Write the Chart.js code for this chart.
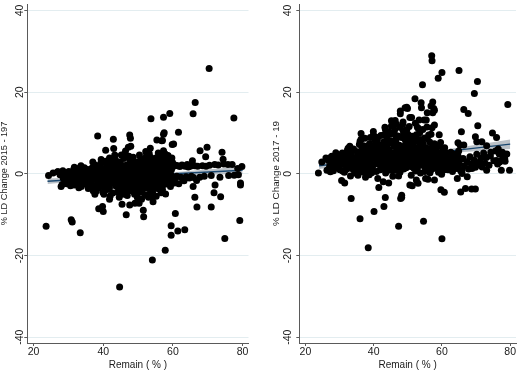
<!DOCTYPE html>
<html>
<head>
<meta charset="utf-8">
<script src="https://cdn.jsdelivr.net/npm/chart.js@4.4.1/dist/chart.umd.min.js"></script>
<style>
  body { margin: 0; background: #fff; }
  #wrap { position: relative; width: 520px; height: 372px; }
  canvas { position: absolute; top: 0; }
  #left { left: 0; }
  #right { left: 260px; }
</style>
</head>
<body>
<div id="wrap">
  <canvas id="left" width="260" height="372"></canvas>
  <canvas id="right" width="260" height="372"></canvas>
</div>
<script>
// tick labels
const xTicks = [20, 40, 60, 80];
const yTicks = [-40, -20, 0, 20, 40];

// panel 1: Remain (%) vs % LD change 2015-19
const points15 = [
  // outliers
  [23.6,-12.8],[31.1,-11.8],[33.4,-14.4],[44.7,-27.7],[54.1,-21.1],[57.8,-18.7],[53.7,13.5],[57.3,13.9],[59.1,14.8],
  [70.4,25.8],[66.4,17.5],[65.8,14.7],[77.5,13.7],[38.4,9.3],[42.9,8.5],[47.6,9.5],[47.8,8.7],[61.6,10.2],[57.5,10.1],
  [57.0,8.2],[55.4,8.3],[59.8,7.2],[69.8,6.5],[67.8,5.7],[74.1,5.3],[74.4,3.6],[69.4,4.2],[40.7,5.8],[43.0,6.2],
  [47.2,6.5],[53.5,6.3],[73.7,-5.6],[71.8,-4.6],[71.0,-8.1],[72.1,-2.7],[66.9,-8.1],[66.3,-5.7],[65.8,-3.1],[60.7,-9.7],
  [59.5,-12.7],[61.4,-14.0],[63.4,-13.7],[59.5,-15.0],[74.9,-15.8],[79.2,-11.4],[79.4,-2.2],[79.4,-2.7],[79.8,1.8],
  [78.6,1.3],[76.0,-0.4],[53.0,-5.7],[46.6,-10.0],[51.6,-10.5],[51.5,-8.9],[54.3,-6.8],[55.2,-5.5],
  [47.6,-7.6],[45.4,-7.4],[39.8,-8.0],[40.0,-9.2],[38.7,-8.5],[41.8,-6.2],[37.6,-5.0],[33.0,-3.4],[27.9,-3.1],
  [31.7,1.6],[27.0,0.5],[57.9,-4.9],[50.3,-7.2],[49.1,-7.2],[56.8,8.1],[57.3,9.7],[60.2,7.3],[57.3,5.7],[57.8,4.9],
  [59.7,3.9],[53.5,3.7],[54.9,2.9],[43.3,4.6],[46.1,4.9],[47.9,6.8],[30.8,-11.2],
  // dense core
  [24.3,-0.4],[25.6,0.2],[26.9,0.5],[27.6,-0.2],[27.9,0.1],[28.2,-2.6],[28.5,-1.0],[28.8,-0.5],[28.4,0.8],
  [29.0,-1.7],[29.3,0.2],[29.5,-2.4],[29.8,-0.8],[30.1,0.6],[30.3,-1.3],[30.6,-2.9],[30.8,0.1],[31.0,-0.6],
  [31.2,-1.9],[31.5,1.0],[31.7,-2.7],[31.9,-0.3],[32.1,0.7],[32.3,-1.5],
  [32.6,-0.9],[32.8,1.3],[33.0,-2.2],[33.3,0.3],[33.5,-1.2],[33.7,-3.1],[33.9,0.9],[34.2,-0.5],[34.4,-1.8],
  [34.6,1.5],[34.8,-2.5],[35.0,0.0],[35.3,-1.0],[35.5,1.1],[35.7,-3.6],[35.9,-0.4],
  [36.1,-1.6],[36.3,0.6],[36.5,-2.3],[36.7,1.4],[36.9,-0.7],[37.1,-4.1],[37.3,0.2],[37.5,-1.3],[37.7,2.2],
  [37.9,-2.8],[38.1,-0.2],[38.3,1.0],[38.5,-1.9],[38.7,-3.4],[38.9,0.5],[39.1,-0.9],[39.3,2.6],[39.5,-2.1],
  [39.7,1.2],[39.9,-4.5],
  [40.1,-0.4],[40.3,0.9],[40.5,-1.5],[40.7,3.1],[40.9,-2.6],[41.1,0.1],[41.3,-3.8],[41.5,1.7],[41.7,-1.1],
  [41.9,-0.3],[42.1,2.4],[42.3,-2.2],[42.5,0.6],[42.7,-4.7],[42.9,1.1],[43.1,-1.7],[43.3,-0.6],[43.5,3.4],
  [43.7,-3.0],[43.9,0.3],[40.4,-3.2],[41.0,2.0],[41.6,-2.9],[42.2,-0.8],[42.8,3.6],[43.4,-2.5],[44.0,1.9],
  [40.8,0.4],[41.4,-1.8],[42.6,-1.3],[43.8,2.7],
  [44.1,-1.2],[44.3,0.8],[44.5,-2.7],[44.7,2.9],[44.9,-0.5],[45.1,-4.2],[45.3,1.5],[45.5,-1.9],[45.7,0.0],
  [45.9,3.8],[46.1,-3.3],[46.3,0.6],[46.5,-1.4],[46.7,2.2],[46.9,-5.3],[47.1,-0.2],[47.3,1.1],[47.5,-2.4],
  [47.7,3.2],[47.9,-0.9],[44.4,-3.6],[45.0,2.4],[45.6,-3.0],[46.2,1.9],[46.8,-2.0],[47.4,4.3],[48.0,-4.1],
  [44.6,0.3],[45.8,-0.7],[47.0,0.9],[46.0,-5.0],[47.8,-3.2],[44.8,-1.7],[46.6,-4.0],
  [48.1,1.6],[48.3,-1.7],[48.5,0.4],[48.7,-3.5],[48.9,2.6],[49.1,-0.6],[49.3,-2.2],[49.5,1.3],[49.7,-4.4],
  [49.9,0.1],[50.1,3.0],[50.3,-1.3],[50.5,0.7],[50.7,-2.8],[50.9,1.9],[51.1,-0.4],[51.3,-3.9],[51.5,2.3],
  [51.7,-1.0],[51.9,0.5],[48.4,3.4],[49.0,-5.0],[49.6,2.1],[50.2,-3.1],[50.8,3.7],[51.4,-1.9],[52.0,-5.2],
  [48.8,-0.9],[50.0,-0.2],[51.2,1.1],[49.4,0.9],[50.6,-4.5],[48.2,-2.6],[51.8,3.1],
  [52.1,-2.0],[52.3,1.4],[52.5,-0.7],[52.7,3.3],[52.9,-3.6],[53.1,0.3],[53.3,-1.5],[53.5,2.0],[53.7,-4.0],
  [53.9,0.9],[54.1,-0.3],[54.3,2.8],[54.5,-2.3],[54.7,1.2],[54.9,-1.1],[55.1,3.9],[55.3,-3.0],[55.5,0.5],
  [55.7,-0.6],[55.9,1.8],[52.4,4.4],[53.0,-5.1],[53.6,4.1],[54.2,-4.7],[54.8,3.5],[55.4,-2.0],[56.0,-3.7],
  [52.8,0.0],[54.0,1.6],[55.2,0.2],[53.4,-2.8],[54.6,-0.8],
  [56.1,0.7],[56.3,-1.9],[56.5,2.5],[56.7,-0.4],[56.9,3.6],[57.1,-2.8],[57.3,1.0],[57.5,-1.2],[57.7,3.3],
  [57.9,0.2],[58.1,-2.5],[58.3,1.5],[58.5,-0.5],[58.7,2.6],[58.9,-1.6],[59.1,0.4],[59.3,-3.1],[59.5,1.9],
  [59.7,-0.7],[59.9,2.8],[56.4,4.5],[57.0,-3.9],[57.6,0.6],[58.2,3.4],[58.8,-2.2],[59.4,-0.2],[56.8,1.6],
  [58.0,-0.9],
  // right of 60: a thin row either side of the fit
  [60.2,1.9],[60.5,-1.3],[60.8,2.1],[61.1,-0.6],[61.4,2.0],[61.7,-2.4],[62.0,1.8],[62.3,-0.8],[62.6,2.2],
  [62.9,-1.2],[63.2,-1.7],[63.5,1.9],[63.8,-0.7],[64.1,2.3],[64.4,1.7],
  [64.7,-1.0],[65.0,1.9],[65.3,-0.6],[65.6,3.2],[65.9,-0.9],[66.2,2.0],[66.8,-1.6],[67.1,1.9],[67.7,-0.8],
  [68.5,2.0],[69.0,-0.6],[69.5,1.9],
  [70.5,2.1],[71.0,-0.4],[72.0,2.3],[73.0,2.2],[73.5,-0.8],[74.6,2.4],[75.8,2.3],[77.0,2.3],[77.6,-0.3],[78.8,-0.2],
  // more of the core
  [35.2,-2.0],[36.0,0.9],[36.8,-3.0],[37.6,0.4],[38.4,-1.1],[39.2,1.8],[39.8,-2.9],[40.6,-0.9],[41.2,1.2],
  [41.8,-3.4],[42.4,-0.1],[43.0,2.0],[43.6,-1.0],[44.2,-4.5],[44.8,1.6],[45.4,-0.3],[46.0,0.5],[46.4,-2.6],
  [47.2,-1.1],[47.6,2.0],[48.2,0.9],[48.6,-1.2],[49.2,1.9],[49.8,-3.0],[50.4,0.4],[51.0,-1.7],[51.6,1.5],
  [52.2,-3.3],[52.6,2.4],[53.2,-0.8],[53.8,1.5],[54.4,0.5],[55.0,-3.5],[55.6,2.6],[56.2,-1.0],[56.6,-2.6],
  [57.2,2.2],[57.8,-1.8],[58.4,0.8],[59.0,-0.6],[59.6,1.1],[60.4,-2.2],
  [32.4,-2.4],[33.6,2.0],[34.0,-1.4],[30.4,-2.0],[29.2,-0.4],[37.0,2.9],[38.0,-4.2],
  [39.4,3.5],[40.2,-5.0],[41.8,3.9],[42.0,-5.4],[43.2,4.0],[44.6,-5.7],[45.2,4.6],[48.6,4.1],[49.8,-5.8],
  [50.4,4.6],[53.2,5.0],[54.4,-5.4],[55.8,5.1],[56.6,-4.6],[58.6,4.5],[52.2,5.5],[46.4,5.6],[51.0,-6.2]
];
// fitted line and 95% band, panel 1
const fitX15 = [24, 35, 48, 62, 80];
const fitY15 = [-1.8, -1.2, -0.6, 0.1, 0.9];
const fitLo15 = [-2.5, -1.6, -0.9, -0.3, 0.0];
const fitHi15 = [-1.1, -0.8, -0.3, 0.5, 1.8];

// panel 2: Remain (%) vs % LD change 2017-19
const points17 = [
  // outliers
  [23.8,0.2],[24.8,2.9],[57.0,28.9],[57.1,27.7],[60.0,24.8],[58.9,23.4],[65.0,25.3],[70.4,22.6],[69.5,19.7],
  [54.3,21.8],[52.1,18.4],[53.9,17.4],[57.3,17.6],[57.6,16.0],[57.8,15.6],[55.7,15.0],[55.4,13.2],[49.7,16.3],
  [49.9,16.0],[47.8,14.7],[46.3,13.1],[66.4,15.8],[67.7,14.8],[79.3,17.0],[70.5,11.8],[65.7,10.3],[74.8,10.0],
  [76.0,8.9],[69.8,9.1],[79.8,0.9],[77.4,0.9],[73.1,0.9],[68.7,-3.7],[65.5,-4.4],[67.4,-0.7],[64.5,-1.1],
  [59.7,-3.9],[60.7,-4.5],[60.0,-15.9],[54.6,-11.6],[47.3,-12.8],[38.4,-18.1],[36.0,-11.0],[40.1,-9.2],
  [43.0,-8.0],[43.4,-5.8],[33.4,-6.0],[31.5,-2.2],[47.9,-6.0],[48.2,-5.8],[41.5,-3.3],[44.4,-2.2],[52.5,-1.5],
  [53.0,-2.3],[50.6,-2.7],[51.3,-2.9],[55.2,-1.1],[55.9,-1.3],[57.8,-1.5],[36.3,9.9],[36.3,8.5],[39.9,9.5],
  [40.9,8.1],[43.3,11.4],[45.2,13.0],[46.6,12.2],[48.6,12.7],[51.1,13.8],[53.3,13.2],[54.8,13.2],[57.8,12.0],
  [59.2,9.6],[59.2,6.9],[56.1,9.5],[52.8,11.4],[50.6,9.3],[32.5,6.3],[27.7,4.3],[31.2,4.9],[37.0,6.9],
  [47.8,15.4],[49.2,16.2],[50.6,13.8],[54.0,16.2],[56.8,16.6],[57.3,15.0],[64.7,7.6],[66.4,7.1],[70.2,7.9],
  [71.7,7.9],[73.1,6.9],[74.3,5.3],[76.5,6.1],[77.7,5.3],[77.9,4.5],[78.4,3.7],[76.0,3.3],[76.9,2.9],
  [68.8,1.3],[70.2,2.1],[71.2,2.5],[65.9,0.1],[66.9,-3.6],[69.8,-3.7],[48.2,-5.2],
  // dense core
  [26.3,0.9],[26.7,3.3],[27.1,1.9],[27.5,4.1],[27.9,2.7],[28.2,0.8],[28.6,3.6],[29.0,1.5],
  [29.4,4.6],[29.8,2.4],[26.0,3.9],[28.9,5.2],[27.3,0.5],
  [30.1,1.0],[30.4,3.7],[30.8,5.1],[31.1,2.3],[31.4,0.4],[31.7,4.2],[32.0,2.9],[32.3,5.8],[32.6,1.4],[32.9,3.4],
  [33.2,-0.5],[33.5,4.9],[33.8,2.1],[34.1,6.1],[30.6,-1.6],[31.9,1.1],[33.0,6.8],[34.4,0.2],
  [34.6,3.5],[34.9,1.6],[35.2,5.4],[35.5,2.7],[35.8,7.2],[36.1,0.6],[36.4,4.3],[36.7,2.0],[37.0,5.9],[37.3,3.1],
  [37.6,-0.8],[37.9,6.8],[35.0,4.1],[36.0,8.0],[36.9,1.2],[37.7,4.6],[35.4,-0.3],[36.6,6.5],[37.4,8.7],[38.0,2.6],
  [38.2,5.0],[38.5,1.8],[38.8,7.4],[39.1,3.3],[39.4,0.3],[39.7,6.2],[40.0,4.1],[40.3,8.3],[40.6,2.4],[40.9,5.5],
  [41.2,-1.1],[41.5,7.0],[41.8,3.6],[42.1,9.4],[38.4,3.9],[39.0,8.9],[39.6,1.3],[40.2,6.8],[40.8,0.6],[41.4,4.6],
  [42.0,2.0],[38.7,-0.2],[39.9,10.4],[41.1,8.6],
  [42.3,5.9],[42.6,1.4],[42.9,7.8],[43.2,3.9],[43.5,0.2],[43.8,6.5],[44.1,4.5],[44.4,10.3],[44.7,2.6],[45.0,8.1],
  [45.3,5.2],[45.6,-0.6],[45.9,6.9],[42.5,3.2],[43.0,9.6],[43.7,2.1],[44.3,7.4],[44.9,0.9],[45.5,3.7],[46.0,9.8],
  [42.8,-1.9],[43.4,11.0],[44.6,5.8],[45.8,1.9],[42.2,4.8],[43.9,8.8],[45.2,11.7],
  [46.2,4.8],[46.5,7.7],[46.8,2.2],[47.1,9.3],[47.4,5.6],[47.7,0.4],[48.0,6.6],[48.3,3.5],[48.6,10.6],[48.9,4.4],
  [49.2,8.4],[49.5,1.5],[49.8,6.0],[46.4,0.9],[47.0,3.3],[47.6,11.4],[48.2,8.9],[48.8,1.2],[49.4,5.1],[50.0,9.7],
  [46.7,6.0],[47.3,-0.5],[48.5,12.2],[49.1,2.9],[49.7,10.9],[46.1,10.7],
  [50.2,3.9],[50.5,7.0],[50.8,1.8],[51.1,5.3],[51.4,9.2],[51.7,2.6],[52.0,6.3],[52.3,0.7],[52.6,4.7],[52.9,8.0],
  [53.2,3.1],[53.5,10.1],[53.8,5.7],[50.4,11.6],[51.0,-0.3],[51.6,7.6],[52.2,12.4],[52.8,1.4],[53.4,6.9],[54.0,2.3],
  [50.7,4.5],[51.3,3.3],[52.5,9.6],[53.1,11.1],[53.7,0.2],[51.9,4.2],
  [54.2,4.1],[54.5,7.3],[54.8,1.9],[55.1,5.0],[55.4,3.0],[55.7,8.6],[56.0,2.2],[56.3,6.2],[56.6,4.3],[56.9,1.1],
  [57.2,5.5],[57.5,3.3],[57.8,7.4],[54.4,10.9],[55.0,0.6],[55.6,11.5],[56.2,4.9],[56.8,9.7],[57.4,2.5],[58.0,4.8],
  [54.7,3.5],[55.3,6.4],[56.5,0.3],[57.1,11.3],[57.7,1.4],
  [58.2,3.7],[58.5,2.1],[58.8,5.3],[59.1,3.0],[59.4,1.2],[59.7,4.6],[60.0,2.6],[60.3,5.7],[60.6,1.6],[60.9,3.8],
  [61.2,2.3],[61.5,4.9],[61.8,1.0],[58.4,6.7],[59.0,0.4],[59.6,7.7],[60.2,3.4],[60.8,6.4],[61.4,1.7],[62.0,3.4],
  [58.7,4.2],[59.9,-0.1],[61.1,5.2],
  [62.3,2.7],[62.6,5.3],[62.9,1.5],[63.2,3.9],[63.5,2.2],[64.1,3.2],[64.4,1.3],[64.7,4.4],[65.0,2.5],
  [65.3,7.1],[65.6,3.6],[65.9,1.0],[62.5,4.2],[63.1,0.6],[63.7,4.8],[64.3,2.8],[64.9,5.6],[65.5,0.8],
  [66.2,3.8],[66.6,2.0],[67.4,3.0],[67.8,1.2],[68.2,4.2],[68.6,2.4],[69.4,3.4],[69.8,1.6],
  [70.2,4.8],[70.6,2.8],[71.4,3.9],[71.8,1.7],
  [72.2,5.1],[72.6,2.6],[73.0,4.0],[73.8,2.1],[74.2,4.4],[75.2,3.2],[75.7,5.6],[76.3,2.4],
  [76.8,4.9],[77.3,3.3],[78.5,3.1],[79.0,4.9],
  // more of the core
  [34.0,3.9],[35.6,1.0],[36.2,5.0],[37.2,2.4],[38.6,6.0],[39.3,4.6],[39.8,2.2],[40.4,5.0],[40.7,9.0],[41.0,3.0],
  [41.6,5.8],[41.9,1.0],[42.4,7.0],[42.7,4.0],[43.1,5.2],[43.3,1.4],[43.6,8.0],[44.0,3.0],[44.2,6.0],[44.8,4.2],
  [45.1,9.8],[45.4,2.0],[45.7,5.0],[46.3,3.4],[46.6,8.6],[46.9,4.4],[47.2,1.8],[47.5,7.0],[47.9,4.8],[48.1,2.4],
  [48.4,6.0],[48.7,9.6],[49.0,3.8],[49.3,7.2],[49.6,2.4],[49.9,4.8],[50.3,8.4],[50.6,5.8],[50.9,3.0],[51.2,7.0],
  [51.5,4.4],[51.8,1.4],[52.1,8.6],[52.4,3.6],[52.7,6.0],[53.0,2.2],[53.3,4.6],[53.6,8.4],[53.9,3.6],[54.1,6.0],
  [54.6,2.6],[54.9,8.8],[55.2,4.0],[55.5,1.4],[55.8,5.6],[56.1,3.2],[56.4,7.8],[56.7,2.8],[57.0,4.4],[57.3,6.6],
  [57.6,3.8],[57.9,2.0],[58.3,5.8],[58.6,3.0],[58.9,1.8],[59.3,4.0],[59.8,2.0],[60.1,4.4],[60.5,3.0],[60.7,1.0],
  [61.3,3.4],[62.2,2.0],[62.8,4.6],[63.4,3.0],[64.6,2.0],[28.0,1.7],[29.2,3.0],[30.2,2.6],
  [30.9,0.7],[31.6,3.2],[32.2,1.9],[32.8,4.6],[33.4,2.9],[33.9,1.2],[35.1,2.3],[35.7,4.9],[36.5,3.4],[37.1,0.4],
  [37.8,3.6],[38.3,0.9],[39.2,2.3],[39.5,5.4]
];
// fitted line and 95% band, panel 2
const fitX17 = [24, 35, 48, 62, 80];
const fitY17 = [2.0, 3.0, 4.3, 5.6, 7.3];
const fitLo17 = [1.2, 2.5, 3.9, 5.1, 6.1];
const fitHi17 = [2.8, 3.5, 4.7, 6.1, 8.4];

const fontFamily = "'Liberation Sans', Arial, sans-serif";
const textColor = '#1a1a1a';
const axisColor = '#5a5a5a';

function xy(xs, ys) {
  return xs.map((x, i) => ({ x: x, y: ys[i] }));
}

//build one panel: points drawn over the band and the fitted line
function drawPanel(id, points, fx, fy, flo, fhi, yTitle, opts) {
  const data = {
    datasets: [
      {
        data: points.map(p => ({ x: p[0], y: p[1] })), order: 0,
        backgroundColor: '#000', borderWidth: 0, pointRadius: 3.5
      },
      {
        type: 'line', data: xy(fx, fy), order: 1,
        borderColor: '#1a476f', borderWidth: 1.3, pointRadius: 0, fill: false
      },
      {
        type: 'line', data: xy(fx, fhi), order: 2,
        borderWidth: 0, pointRadius: 0, fill: '+1',
        backgroundColor: 'rgba(180,186,193,0.9)'
      },
      {
        type: 'line', data: xy(fx, flo), order: 2,
        borderWidth: 0, pointRadius: 0, fill: false
      }
    ]
  };
  return new Chart(document.getElementById(id), {
    type: 'scatter',
    data: data,
    options: {
      responsive: false,
      animation: false,
      events: [],
      layout: { padding: { left: 0, right: opts.padRight, top: 0, bottom: 0 } },
      plugins: { legend: { display: false }, tooltip: { enabled: false } },
      scales: {
        x: {
          type: 'linear', min: 18.2, max: 81.7,
          afterBuildTicks: s => { s.ticks = xTicks.map(v => ({ value: v })); },
          afterFit: s => { s.height = 29; s.paddingLeft = 0; s.paddingRight = 0; },
          border: { color: axisColor, width: 1 },
          grid: { drawOnChartArea: false, tickColor: axisColor, tickLength: 3 },
          ticks: { padding: 0, maxRotation: 0, color: textColor, font: { family: fontFamily, size: 10.5 } },
          title: {
            display: true, text: 'Remain ( % )', color: textColor,
            padding: { top: 0, bottom: 1 }, font: { family: fontFamily, size: 10 }
          }
        },
        y: {
          min: -41.4, max: 41.6,
          afterBuildTicks: s => { s.ticks = yTicks.map(v => ({ value: v })); },
          afterFit: s => { s.width = opts.yWidth; s.paddingTop = 0; s.paddingBottom = 0; },
          border: { color: axisColor, width: 1 },
          grid: { color: '#e3edf0', lineWidth: 1, tickColor: axisColor, tickLength: 3 },
          ticks: {
            minRotation: 90, maxRotation: 90, crossAlign: 'center', padding: opts.tickPad,
            color: textColor, font: { family: fontFamily, size: 10.5 }
          },
          title: {
            display: true, text: yTitle, color: textColor,
            padding: { top: opts.titlePad, bottom: 0 },
            font: { family: fontFamily, size: opts.titleSize, lineHeight: 1 }
          }
        }
      }
    }
  });
}

drawPanel('left', points15, fitX15, fitY15, fitLo15, fitHi15, '% LD Change 2015 - 197',
  { yWidth: 27.3, padRight: 11.5, tickPad: -3.3, titlePad: -0.6, titleSize: 9.2 });
drawPanel('right', points17, fitX17, fitY17, fitLo17, fitHi17, '% LD Change 2017 - 19',
  { yWidth: 39.3, padRight: 0, tickPad: 0.7, titlePad: 11.7, titleSize: 9.8 });
</script>
</body>
</html>
